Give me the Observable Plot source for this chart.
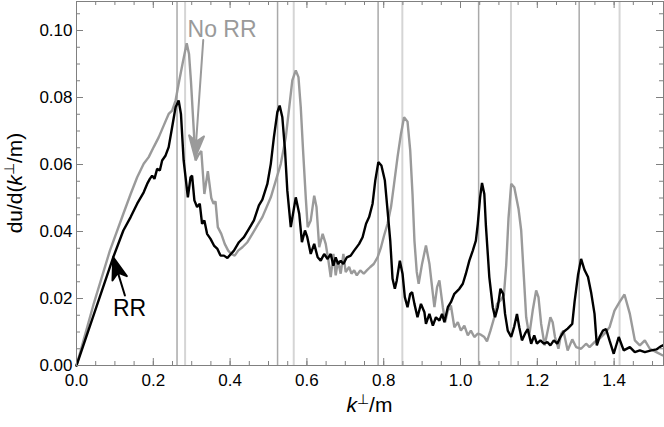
<!DOCTYPE html>
<html><head><meta charset="utf-8">
<script src="https://cdn.jsdelivr.net/npm/d3@7"></script>
<script src="https://cdn.jsdelivr.net/npm/@observablehq/plot@0.6"></script>
<style>body{margin:0;background:#fff}svg{display:block}</style>
</head><body><div id="chart"></div>
<script>
// ---- data ----
const rrX = [0,0.045,0.0956,0.122,0.141,0.158,0.175,0.184,0.191,0.197,0.203,0.210,0.217,0.223,0.232,0.240,0.249,0.258,0.266,0.272,0.279,0.284,0.290,0.297,0.301,0.307,0.314,0.321,0.327,0.333,0.340,0.349,0.358,0.367,0.375,0.384,0.393,0.402,0.410,0.423,0.436,0.449,0.462,0.475,0.484,0.497,0.506,0.514,0.523,0.529,0.536,0.543,0.549,0.558,0.571,0.580,0.587,0.595,0.601,0.610,0.619,0.628,0.636,0.645,0.654,0.662,0.669,0.675,0.681,0.688,0.695,0.704,0.714,0.723,0.736,0.745,0.754,0.762,0.771,0.778,0.786,0.794,0.803,0.810,0.817,0.823,0.829,0.834,0.842,0.849,0.855,0.862,0.869,0.874,0.880,0.888,0.897,0.906,0.910,0.919,0.928,0.936,0.945,0.952,0.958,0.967,0.975,0.984,0.997,1.006,1.014,1.023,1.032,1.040,1.045,1.051,1.056,1.062,1.066,1.075,1.084,1.090,1.097,1.104,1.111,1.116,1.123,1.132,1.140,1.147,1.153,1.160,1.168,1.175,1.184,1.192,1.199,1.208,1.217,1.226,1.234,1.243,1.252,1.260,1.268,1.279,1.291,1.297,1.306,1.314,1.323,1.332,1.340,1.349,1.355,1.362,1.371,1.379,1.388,1.399,1.412,1.425,1.441,1.454,1.467,1.480,1.497,1.510,1.523,1.533];
const rrY = [0,0.0152,0.0323,0.0403,0.0443,0.0483,0.0517,0.0542,0.0557,0.0567,0.0557,0.0587,0.0582,0.0612,0.0627,0.0652,0.0711,0.0771,0.0791,0.0751,0.0612,0.0562,0.0502,0.0562,0.0567,0.0493,0.0473,0.0483,0.0423,0.0433,0.0393,0.0378,0.0358,0.0348,0.0328,0.0328,0.0321,0.0333,0.0343,0.0368,0.0383,0.0408,0.0433,0.0478,0.0495,0.0542,0.0602,0.0681,0.0756,0.0776,0.0741,0.0642,0.0522,0.0413,0.0502,0.0453,0.0368,0.0403,0.0383,0.0333,0.0363,0.0323,0.0313,0.0333,0.0318,0.0333,0.0298,0.0323,0.0303,0.0313,0.0303,0.0323,0.0328,0.0343,0.0363,0.0383,0.0423,0.0443,0.0483,0.0552,0.0607,0.0597,0.0552,0.0463,0.0373,0.0259,0.0229,0.0254,0.0313,0.0274,0.0204,0.0174,0.0214,0.0219,0.0184,0.0144,0.0184,0.0159,0.0124,0.0154,0.0119,0.0144,0.0134,0.0154,0.0129,0.0174,0.0189,0.0214,0.0229,0.0244,0.0274,0.0313,0.0343,0.0373,0.0423,0.0502,0.0545,0.0512,0.0420,0.0264,0.0174,0.0144,0.0174,0.0229,0.0214,0.0154,0.0104,0.0085,0.0117,0.0154,0.0114,0.0075,0.0095,0.0109,0.0065,0.0090,0.0065,0.0075,0.0065,0.0070,0.0060,0.0075,0.0065,0.0085,0.0100,0.0110,0.0124,0.0190,0.0270,0.0318,0.0285,0.0264,0.0219,0.0154,0.0060,0.0085,0.0104,0.0109,0.0075,0.0035,0.0085,0.0045,0.0055,0.0040,0.0045,0.0040,0.0045,0.0048,0.0058,0.0063];

const noRrX = [0,0.045,0.087,0.122,0.141,0.158,0.175,0.188,0.201,0.214,0.227,0.240,0.249,0.258,0.266,0.276,0.287,0.293,0.298,0.304,0.310,0.318,0.325,0.333,0.342,0.351,0.357,0.362,0.368,0.377,0.386,0.395,0.403,0.412,0.421,0.432,0.445,0.458,0.471,0.484,0.506,0.519,0.532,0.545,0.554,0.562,0.571,0.578,0.584,0.590,0.597,0.602,0.610,0.619,0.625,0.632,0.641,0.649,0.656,0.662,0.669,0.675,0.681,0.688,0.695,0.701,0.710,0.716,0.723,0.730,0.739,0.748,0.756,0.765,0.774,0.784,0.793,0.801,0.810,0.819,0.827,0.836,0.845,0.853,0.862,0.869,0.875,0.880,0.886,0.891,0.900,0.910,0.919,0.928,0.932,0.939,0.945,0.954,0.960,0.967,0.975,0.984,0.993,1.001,1.010,1.019,1.027,1.036,1.045,1.053,1.062,1.069,1.078,1.088,1.095,1.104,1.113,1.119,1.125,1.132,1.140,1.151,1.158,1.165,1.171,1.179,1.188,1.197,1.203,1.210,1.219,1.227,1.234,1.240,1.246,1.255,1.262,1.268,1.279,1.291,1.301,1.314,1.327,1.336,1.349,1.362,1.375,1.388,1.401,1.414,1.427,1.441,1.454,1.467,1.480,1.493,1.510,1.527,1.533];
const noRrY = [0,0.0185,0.0343,0.0453,0.0512,0.0562,0.0602,0.0622,0.0652,0.0681,0.0716,0.0751,0.0761,0.0791,0.0841,0.0900,0.0962,0.0930,0.0850,0.0730,0.0612,0.0630,0.0640,0.0512,0.0580,0.0500,0.0483,0.0490,0.0413,0.0393,0.0363,0.0343,0.0333,0.0328,0.0343,0.0353,0.0368,0.0393,0.0418,0.0443,0.0502,0.0552,0.0602,0.0681,0.0771,0.0851,0.0881,0.0861,0.0771,0.0642,0.0502,0.0413,0.0433,0.0507,0.0473,0.0353,0.0393,0.0363,0.0313,0.0264,0.0333,0.0269,0.0313,0.0274,0.0333,0.0279,0.0294,0.0274,0.0284,0.0269,0.0284,0.0274,0.0284,0.0294,0.0303,0.0323,0.0353,0.0388,0.0423,0.0473,0.0542,0.0622,0.0692,0.0741,0.0728,0.0642,0.0512,0.0373,0.0280,0.0244,0.0304,0.0358,0.0304,0.0214,0.0174,0.0234,0.0254,0.0174,0.0129,0.0164,0.0179,0.0114,0.0129,0.0104,0.0119,0.0090,0.0104,0.0085,0.0095,0.0092,0.0085,0.0072,0.0104,0.0144,0.0184,0.0194,0.0210,0.0300,0.0440,0.0542,0.0532,0.0468,0.0403,0.0264,0.0144,0.0090,0.0164,0.0224,0.0204,0.0124,0.0060,0.0104,0.0144,0.0129,0.0085,0.0050,0.0095,0.0104,0.0045,0.0078,0.0055,0.0050,0.0065,0.0055,0.0070,0.0080,0.0095,0.0114,0.0164,0.0189,0.0212,0.0154,0.0075,0.0060,0.0075,0.0050,0.0040,0.0030,0.0028];

// resonance markers
const resonRR = [0.2618,0.5236,0.7854,1.0472,1.3090];
const resonNoRR = [0.2828,0.5657,0.8485,1.1314,1.4142];

// ticks
const xMajor = [0,0.2,0.4,0.6,0.8,1.0,1.2,1.4];
const xMinor = d3.range(0,31).map(i => +(i*0.05).toFixed(2));
const yMajor = [0,0.02,0.04,0.06,0.08,0.10];
const yMinor = d3.range(0,22).map(i => +(i*0.005).toFixed(3));

// annotations
const annText = ["No RR", "RR"];
const annX = [0.379, 0.138];
const annY = [0.1003, 0.0170];
const annColor = ["#9a9a9a", "#000000"];
const arrowTipX = [0.3086, 0.0956];
const arrowTipY = [0.0620, 0.0323];
const arrowLen = [118, 40];
const arrowRot = [184, -17];

const rrData = rrX.map((x,i)=>({x, y: rrY[i]}));
const noRrData = noRrX.map((x,i)=>({x, y: noRrY[i]}));
const ann = annText.map((t,i)=>({t, x: annX[i], y: annY[i], c: annColor[i]}));

const W = 664, Ht = 427, mL = 76, mR = 1, mT = 1, mB = 62;
const PW = W - mL - mR, PH = Ht - mT - mB;
const frameColor = "#808080";

const dart = {
  draw(ctx, l) {
    const h = 22, w = 7.5, notch = 6;
    ctx.moveTo(0, 0);
    ctx.lineTo(0, -l + h - notch);
    ctx.moveTo(0, -l);
    ctx.lineTo(-w, -l + h);
    ctx.lineTo(0, -l + h - notch);
    ctx.lineTo(w, -l + h);
    ctx.closePath();
  }
};

const arrowMarks = arrowTipX.map((x, i) =>
  Plot.vector([{x, y: arrowTipY[i]}], {
    x: "x", y: "y", length: arrowLen[i], rotate: arrowRot[i], anchor: "end",
    shape: dart, stroke: annColor[i], fill: annColor[i], strokeWidth: 2
  })
);

const plot = Plot.plot({
  width: W, height: Ht,
  marginLeft: mL, marginRight: mR, marginTop: mT, marginBottom: mB,
  style: {fontFamily: "'Liberation Sans', Arial, sans-serif", fontSize: "17px", background: "#fff", color: "#000"},
  x: {domain: [0, 1.5286]},
  y: {domain: [0, 0.10866]},
  marks: [
    Plot.ruleX(resonRR, {stroke: "#a9a9a9", strokeWidth: 1.5}),
    Plot.ruleX(resonNoRR, {stroke: "#d5d5d5", strokeWidth: 2}),
    Plot.line(noRrData, {x: "x", y: "y", stroke: "#9a9a9a", strokeWidth: 2.4, strokeLinejoin: "miter"}),
    Plot.line(rrData, {x: "x", y: "y", stroke: "#000", strokeWidth: 2.4, strokeLinejoin: "miter"}),
    Plot.frame({stroke: frameColor}),
    Plot.ruleX(xMinor, {stroke: frameColor, insetTop: PH - 4}),
    Plot.ruleX(xMajor, {stroke: frameColor, insetTop: PH - 7}),
    Plot.ruleX(xMinor, {stroke: frameColor, insetBottom: PH - 4}),
    Plot.ruleX(xMajor, {stroke: frameColor, insetBottom: PH - 7}),
    Plot.ruleY(yMinor, {stroke: frameColor, insetRight: PW - 4}),
    Plot.ruleY(yMajor, {stroke: frameColor, insetRight: PW - 7}),
    Plot.ruleY(yMinor, {stroke: frameColor, insetLeft: PW - 4}),
    Plot.ruleY(yMajor, {stroke: frameColor, insetLeft: PW - 7}),
    Plot.axisX({ticks: xMajor, tickSize: 0, tickPadding: 8, tickFormat: d3.format(".1f"), label: null, fontSize: 17}),
    Plot.axisY({ticks: yMajor, tickSize: 0, tickPadding: 4, tickFormat: d3.format(".2f"), label: null, fontSize: 17}),
    Plot.text(ann, {x: "x", y: "y", text: "t", fill: "c", fontSize: 23}),
    ...arrowMarks
  ]
});

document.getElementById("chart").appendChild(plot);

const svg = d3.select(plot);
const fs = 21;
const xl = svg.append("text")
  .attr("x", mL + PW / 2).attr("y", Ht - 15)
  .attr("text-anchor", "middle").attr("font-size", fs)
  .attr("font-family", "'Liberation Sans', Arial, sans-serif").attr("fill", "#000");
xl.append("tspan").attr("font-style", "italic").text("k");
xl.append("tspan").attr("font-size", 14).attr("dy", -8).text("⊥");
xl.append("tspan").attr("dy", 8).text("/m");

const yl = svg.append("text")
  .attr("transform", `translate(22,${mT + PH / 2}) rotate(-90)`)
  .attr("text-anchor", "middle").attr("font-size", fs)
  .attr("font-family", "'Liberation Sans', Arial, sans-serif").attr("fill", "#000");
yl.append("tspan").text("du/d(");
yl.append("tspan").attr("font-style", "italic").text("k");
yl.append("tspan").attr("font-size", 14).attr("dy", -8).text("⊥");
yl.append("tspan").attr("dy", 8).text("/m)");
</script>
</body></html>
